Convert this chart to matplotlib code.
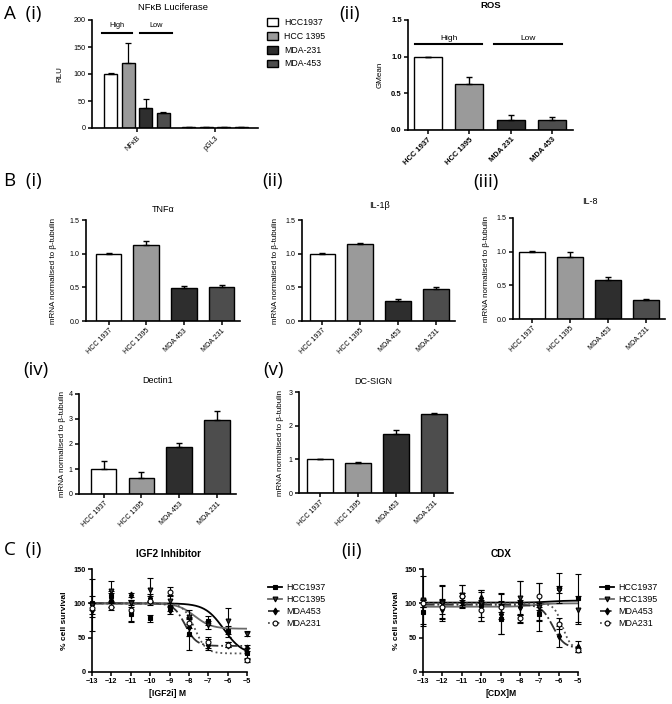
import numpy as np
import matplotlib
matplotlib.use("Agg")
import matplotlib.pyplot as plt
from matplotlib.lines import Line2D
from matplotlib.patches import Patch

W, H = 672, 704
plt.rcParams['font.family'] = ['Liberation Sans', 'DejaVu Sans']

# ---- A(i) NFkB luciferase ----
luc_series = ['HCC1937', 'HCC 1395', 'MDA-231', 'MDA-453']
luc_groups = ['NFκB', 'pGL3']
luc_vals = [[100, 1.2], [120, 1.2], [37, 1.0], [27, 1.0]]
luc_err = [[1.5, 0.2], [37, 0.2], [16, 0.2], [2, 0.2]]

# ---- A(ii) ROS ----
ros_labels = ['HCC 1937', 'HCC 1395', 'MDA 231', 'MDA 453']
ros_vals = [1.0, 0.63, 0.14, 0.13]
ros_err = [0.0, 0.09, 0.07, 0.05]

# ---- B mRNA ----
mrna_labels = ['HCC 1937', 'HCC 1395', 'MDA 453', 'MDA 231']
tnfa_vals = [1.0, 1.13, 0.49, 0.50]
tnfa_err = [0.01, 0.06, 0.03, 0.04]
il1b_vals = [1.0, 1.15, 0.30, 0.47]
il1b_err = [0.015, 0.01, 0.03, 0.03]
il8_vals = [1.0, 0.92, 0.58, 0.28]
il8_err = [0.005, 0.08, 0.05, 0.02]
dectin_vals = [1.0, 0.65, 1.87, 2.97]
dectin_err = [0.32, 0.23, 0.18, 0.36]
dcsign_vals = [1.0, 0.89, 1.75, 2.35]
dcsign_err = [0.01, 0.02, 0.12, 0.03]

# ---- C dose response ----
log_dose = [-13, -12, -11, -10, -9, -8, -7, -6, -5]
c_series = ['HCC1937', 'HCC1395', 'MDA453', 'MDA231']
igf_mean = [
    [100, 110, 85, 78, 95, 55, 75, 59, 27],
    [97, 118, 100, 120, 104, 80, 68, 74, 56],
    [90, 105, 112, 108, 90, 65, 40, 40, 35],
    [93, 95, 90, 104, 117, 72, 43, 40, 17],
]
igf_err = [
    [10, 8, 12, 5, 6, 23, 6, 8, 8],
    [38, 14, 5, 17, 8, 10, 6, 19, 4],
    [10, 10, 3, 6, 5, 12, 8, 4, 4],
    [8, 5, 15, 6, 7, 8, 8, 4, 3],
]
# fitted curve parameters: top, bottom, logEC50, hill
igf_fit = [(100, 25, -6.2, 0.9), (100, 63, -7.7, 1.0),
           (100, 38, -8.2, 1.5), (100, 27, -7.7, 1.5)]

cdx_mean = [
    [87, 103, 110, 97, 77, 102, 85, 122, 108],
    [105, 100, 112, 100, 95, 108, 95, 120, 90],
    [100, 92, 102, 108, 85, 95, 88, 52, 37],
    [100, 95, 110, 90, 95, 78, 110, 70, 32],
]
cdx_err = [
    [20, 24, 17, 22, 22, 30, 10, 22, 35],
    [35, 25, 15, 20, 18, 25, 35, 5, 20],
    [5, 15, 8, 8, 30, 10, 12, 15, 8],
    [5, 10, 5, 15, 8, 5, 20, 8, 3],
]
cdx_fit = [(101, 104, -6.5, 1.0), (95, 100, -7.3, 1.0),
           (98, 35, -6.3, 1.5), (100, 33, -5.8, 2.0)]

fills = ['white', '#9a9a9a', '#2e2e2e', '#4d4d4d']
c_markers = ['s', 'v', 'd', 'o']
c_lines = [('-', 'black'), ('-', '#6a6a6a'), ('-.', '#333333'), (':', '#555555')]
c_mfc = ['black', '#333333', 'black', 'white']

fig = plt.figure(figsize=(W / 100, H / 100), dpi=100)


def px_axes(l, t, r, b):
    return fig.add_axes([l / W, 1 - b / H, (r - l) / W, (b - t) / H])


def ftext(x, y, s, **kw):
    kw.setdefault('ha', 'center')
    kw.setdefault('va', 'center')
    fig.text(x / W, 1 - y / H, s, **kw)


def style(ax, size=5, bold=False):
    for s in ['top', 'right']:
        ax.spines[s].set_visible(False)
    for s in ['left', 'bottom']:
        ax.spines[s].set_linewidth(1.2)
    ax.tick_params(direction='out', length=3, width=1.1, labelsize=size, pad=1.5)
    if bold:
        for t in ax.get_xticklabels() + ax.get_yticklabels():
            t.set_fontweight('bold')


def bar_panel(box, vals, errs, labels, xlim, yticks, ylab, ylab_x, size=5.1, lab_size=5.8):
    ax = px_axes(*box)
    x = np.arange(len(vals))
    ax.bar(x, vals, 0.68, color=fills, edgecolor='black', linewidth=1.0, zorder=2)
    ax.errorbar(x, vals, yerr=[np.zeros(len(errs)), errs], fmt='none', ecolor='black',
                elinewidth=1.0, capsize=2.5, capthick=1.0, zorder=3, clip_on=False)
    ax.set_xlim(*xlim)
    ax.set_ylim(yticks[0], yticks[-1])
    ax.set_yticks(yticks)
    ax.set_xticks(x)
    ax.set_xticklabels(labels, rotation=45, ha='right', rotation_mode='anchor')
    ax.set_ylabel(ylab, fontsize=lab_size)
    ax.yaxis.set_label_coords(ylab_x, 0.5)
    style(ax, size=size)
    return ax


# ---------- A(i) ----------
ax = px_axes(92, 20, 258, 128)
offsets = [-0.34, -0.115, 0.11, 0.335]
gx = np.arange(len(luc_groups))
for i, name in enumerate(luc_series):
    ax.bar(gx + offsets[i], luc_vals[i], 0.165, color=fills[i], edgecolor='black',
           linewidth=1.0, label=name, zorder=2)
    ax.errorbar(gx + offsets[i], luc_vals[i], yerr=[[0, 0], luc_err[i]], fmt='none',
                ecolor='black', elinewidth=0.9, capsize=2, capthick=0.9, zorder=3)
ax.set_xlim(-0.58, 1.55)
ax.set_ylim(0, 200)
ax.set_yticks([0, 50, 100, 150, 200])
ax.set_xticks(gx)
ax.set_xticklabels(luc_groups, rotation=45, ha='right', rotation_mode='anchor')
ax.set_ylabel('RLU', fontsize=5.8)
ax.yaxis.set_label_coords(-0.175, 0.5)
style(ax, size=5.2)
ax.plot([-0.45, -0.07], [176, 176], color='black', lw=1.5, clip_on=False)
ax.plot([0.04, 0.45], [176, 176], color='black', lw=1.5, clip_on=False)
ax.text(-0.26, 184, 'High', fontsize=5.3, ha='center', va='bottom')
ax.text(0.245, 184, 'Low', fontsize=5.3, ha='center', va='bottom')
ftext(173, 7, 'NFκB Luciferase', fontsize=6.8)
handles = [Patch(facecolor=fills[i], edgecolor='black', linewidth=1.0) for i in range(4)]
fig.legend(handles, luc_series, loc='upper left', bbox_to_anchor=(267 / W, 1 - 18 / H),
           frameon=False, fontsize=6.3, handlelength=1.3, handleheight=1.0,
           labelspacing=0.55, borderpad=0, borderaxespad=0, handletextpad=0.7)

# ---------- A(ii) ----------
ax = bar_panel((408, 20, 573, 130), ros_vals, ros_err, ros_labels, (-0.48, 3.5),
               [0.0, 0.5, 1.0, 1.5], 'GMean', -0.15, size=5.5, lab_size=5.8)
ax.set_yticklabels(['0.0', '0.5', '1.0', '1.5'])
for t in ax.get_xticklabels() + ax.get_yticklabels():
    t.set_fontweight('bold')
ax.plot([-0.31, 1.3], [1.17, 1.17], color='black', lw=1.5, clip_on=False)
ax.plot([1.59, 3.23], [1.17, 1.17], color='black', lw=1.5, clip_on=False)
ax.text(0.5, 1.2, 'High', fontsize=6, ha='center', va='bottom')
ax.text(2.41, 1.2, 'Low', fontsize=6, ha='center', va='bottom')
ftext(491, 6, 'ROS', fontsize=6.8, fontweight='bold')

# ---------- B ----------
ylab_b = 'mRNA normalised to β-tubulin'
ax = bar_panel((86, 220, 240, 321), tnfa_vals, tnfa_err, mrna_labels, (-0.6, 3.49),
               [0.0, 0.5, 1.0, 1.5], ylab_b, -0.19)
ax.set_yticklabels(['0.0', '0.5', '1.0', '1.5'])
ftext(163, 210, 'TNFα', fontsize=6.5)
ax = bar_panel((302, 220, 455, 321), il1b_vals, il1b_err, mrna_labels, (-0.54, 3.5),
               [0.0, 0.5, 1.0, 1.5], ylab_b, -0.15)
ax.set_yticklabels(['0.0', '0.5', '1.0', '1.5'])
ftext(379, 205, 'IL-1β', fontsize=6.5)
ax = bar_panel((513, 218, 665, 319), il8_vals, il8_err, mrna_labels, (-0.5, 3.5),
               [0.0, 0.5, 1.0, 1.5], ylab_b, -0.15)
ax.set_yticklabels(['0.0', '0.5', '1.0', '1.5'])
ftext(590, 202, 'IL-8', fontsize=6.5)
ax = bar_panel((79, 394, 236, 494), dectin_vals, dectin_err, mrna_labels, (-0.65, 3.5),
               [0, 1, 2, 3, 4], ylab_b, -0.085)
ftext(158, 381, 'Dectin1', fontsize=6.5)
ax = bar_panel((299, 392, 453, 493), dcsign_vals, dcsign_err, mrna_labels, (-0.55, 3.5),
               [0, 1, 2, 3], ylab_b, -0.095)
ftext(373, 382, 'DC-SIGN', fontsize=6.5)


# ---------- C ----------
def dose_panel(box, means, errs, fits, title, title_x, xlab, leg_x, ylab_x):
    ax = px_axes(*box)
    xs = np.linspace(-13, -5, 300)
    handles = []
    for i, name in enumerate(c_series):
        top, bottom, ec50, hill = fits[i]
        ls, col = c_lines[i]
        ax.plot(xs, bottom + (top - bottom) / (1 + 10 ** (hill * (xs - ec50))),
                ls=ls, color=col, lw=1.3, zorder=2)
        ax.errorbar(log_dose, means[i], yerr=errs[i], fmt=c_markers[i], ms=3.5,
                    mfc=c_mfc[i], mec='black', mew=0.8, ecolor='black',
                    elinewidth=0.8, capsize=2.2, capthick=0.8, zorder=3, clip_on=False)
        handles.append(Line2D([], [], ls=ls, color=col, lw=1.3, marker=c_markers[i],
                              ms=3.5, mfc=c_mfc[i], mec='black', mew=0.8))
    ax.set_xlim(-13, -5)
    ax.set_ylim(0, 150)
    ax.set_xticks(log_dose)
    ax.set_yticks([0, 50, 100, 150])
    ax.set_ylabel('% cell survival', fontsize=6, fontweight='bold')
    ax.yaxis.set_label_coords(ylab_x, 0.5)
    style(ax, size=5.2, bold=True)
    ftext(title_x, 554, title, fontsize=7.2, fontweight='bold')
    ftext(title_x, 693, xlab, fontsize=6.2, fontweight='bold')
    fig.legend(handles, c_series, loc='upper left', bbox_to_anchor=(leg_x / W, 1 - 583 / H),
               frameon=False, fontsize=6.4, handlelength=1.6, labelspacing=0.35,
               borderpad=0, borderaxespad=0, handletextpad=0.5)


dose_panel((92, 569, 247, 672), igf_mean, igf_err, igf_fit, 'IGF2 Inhibitor', 168,
           '[IGF2i] M', 268, -0.155)
dose_panel((423, 569, 578, 672), cdx_mean, cdx_err, cdx_fit, 'CDX', 501,
           '[CDX]M', 600, -0.15)

# ---------- panel letters ----------
pl = dict(fontsize=13.5, ha='left', va='center', family=['Open Sans', 'DejaVu Sans'])
ftext(4, 14, 'A  (i)', **pl)
ftext(339, 14, '(ii)', **pl)
ftext(4, 181, 'B  (i)', **pl)
ftext(262, 181, '(ii)', **pl)
ftext(473, 182, '(iii)', **pl)
ftext(23, 370, '(iv)', **pl)
ftext(263, 370, '(v)', **pl)
ftext(4, 550, 'C  (i)', **pl)
ftext(341, 551, '(ii)', **pl)

fig.savefig('out.png', dpi=100)
